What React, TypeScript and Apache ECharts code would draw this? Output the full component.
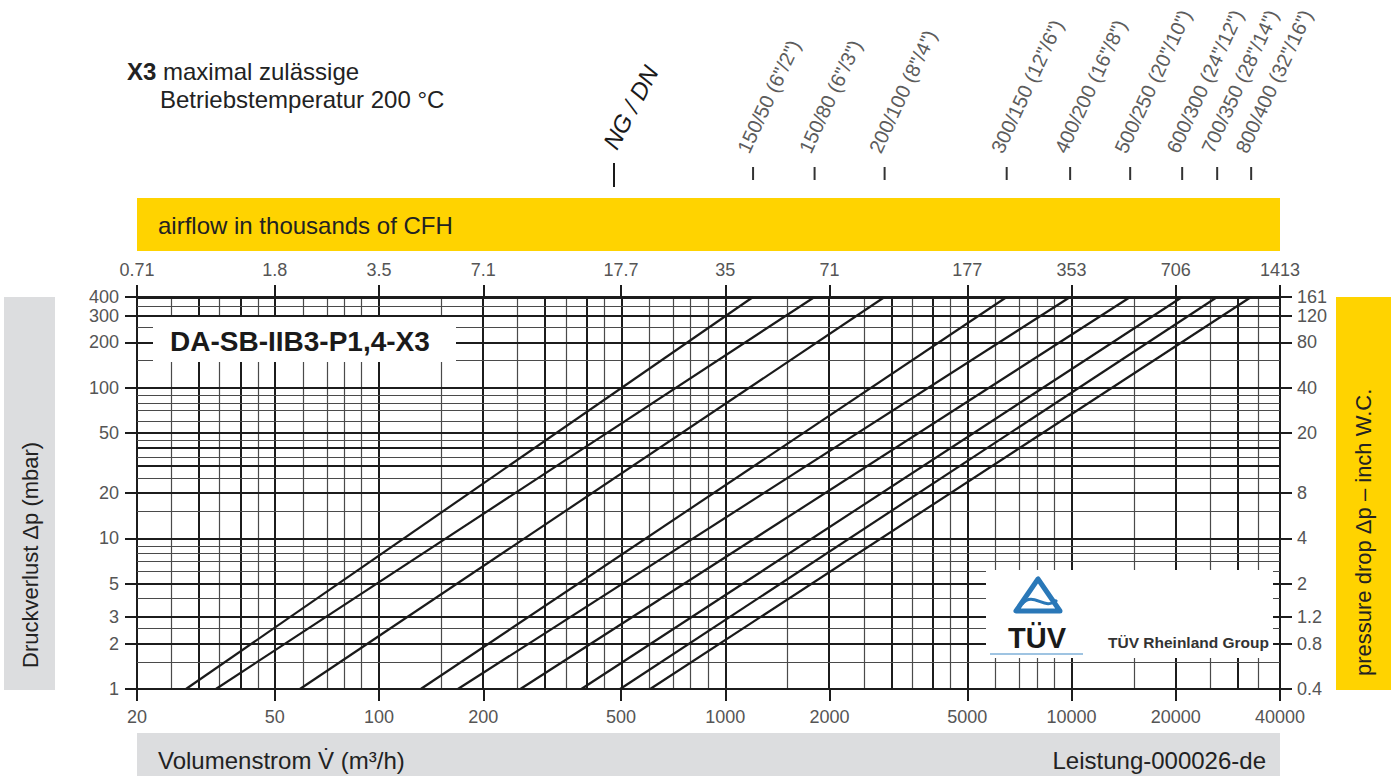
import React, { useEffect, useRef } from 'react';
import * as echarts from 'echarts';

// ---- data ----
// flow (m³/h) of each filter size at 1 mbar and at 400 mbar pressure drop
const dnLabels = [
  '150/50 (6"/2")',
  '150/80 (6"/3")',
  '200/100 (8"/4")',
  '300/150 (12"/6")',
  '400/200 (16"/8")',
  '500/250 (20"/10")',
  '600/300 (24"/12")',
  '700/350 (28"/14")',
  '800/400 (32"/16")',
];
const flowAt1mbar = [27.7, 33.8, 59.1, 132, 169, 256, 384, 497, 607];
const flowAt400mbar = [1203, 1811, 2885, 6497, 9908, 14770, 20870, 26340, 33020];
const dpLow = 1;
const dpHigh = 400;

// axis ticks
const flowTicks = [20, 50, 100, 200, 500, 1000, 2000, 5000, 10000, 20000, 40000];
const flowTickLabels = ['20', '50', '100', '200', '500', '1000', '2000', '5000', '10000', '20000', '40000'];
const cfhTickLabels = ['0.71', '1.8', '3.5', '7.1', '17.7', '35', '71', '177', '353', '706', '1413'];
const dpTicks = [1, 2, 3, 5, 10, 20, 50, 100, 200, 300, 400];
const dpTickLabels = ['1', '2', '3', '5', '10', '20', '50', '100', '200', '300', '400'];
const inchTickLabels = ['0.4', '0.8', '1.2', '2', '4', '8', '20', '40', '80', '120', '161'];

// grid lines of the log paper
const flowGridBold = [20, 30, 40, 50, 100, 200, 300, 400, 500, 1000, 2000, 3000, 4000, 5000, 10000, 20000, 30000, 40000];
const flowGridThin = [25, 35, 45, 60, 70, 80, 90, 150, 250, 350, 450, 600, 700, 800, 900, 1500, 2500, 3500, 4500, 6000, 7000, 8000, 9000, 15000, 25000, 35000];
const dpGridBold = [1, 2, 3, 5, 10, 20, 30, 40, 50, 100, 200, 300, 400];
const dpGridThin = [1.5, 2.5, 4, 6, 7, 8, 9, 15, 25, 35, 45, 60, 70, 80, 90, 150, 250, 350];

const L = Math.log10;
const FONT = 'Arial, "Liberation Sans", Helvetica, sans-serif';

export default function App() {
  const ref = useRef<HTMLDivElement>(null);

  useEffect(() => {
    document.body.style.margin = '0';
    const chart = echarts.init(ref.current as HTMLDivElement, null, { renderer: 'svg' });

    const fmt = (ticks: number[], labels: string[]) => (v: number) => {
      const i = ticks.findIndex((t) => Math.abs(L(t) - v) < 1e-6);
      return i >= 0 ? labels[i] : '';
    };

    const lineCol = '#1c1c1c';
    const axisBase = (ticks: number[], labels: string[], margin: number) => ({
      type: 'value',
      splitLine: { show: false },
      axisLine: { show: true, onZero: false, lineStyle: { color: lineCol, width: 2 } },
      axisTick: {
        show: true,
        inside: false,
        length: 12,
        customValues: ticks.map(L),
        lineStyle: { color: lineCol, width: 2 },
      },
      axisLabel: {
        show: true,
        customValues: ticks.map(L),
        formatter: fmt(ticks, labels),
        margin,
        fontSize: 18,
        color: '#555',
        fontFamily: FONT,
      },
    });

    const gridItems = [
      ...flowGridBold.map((v) => ({ xAxis: L(v), lineStyle: { color: lineCol, width: 2, type: 'solid' } })),
      ...flowGridThin.map((v) => ({ xAxis: L(v), lineStyle: { color: '#4a4a4a', width: 1.2, type: 'solid' } })),
      ...dpGridBold.map((v) => ({ yAxis: L(v), lineStyle: { color: lineCol, width: 2, type: 'solid' } })),
      ...dpGridThin.map((v) => ({ yAxis: L(v), lineStyle: { color: '#4a4a4a', width: 1.2, type: 'solid' } })),
    ];

    const option: any = {
      animation: false,
      backgroundColor: '#ffffff',
      grid: { left: 137, right: 111, top: 297, bottom: 87, outerBoundsMode: 'none', containLabel: false },
      xAxis: [
        { ...axisBase(flowTicks, flowTickLabels, 19), position: 'bottom', min: L(20), max: L(40000) },
        { ...axisBase(flowTicks, cfhTickLabels, 18), position: 'top', min: L(20), max: L(40000) },
      ],
      yAxis: [
        { ...axisBase(dpTicks, dpTickLabels, 18), position: 'left', min: L(dpLow), max: L(dpHigh) },
        {
          ...axisBase(dpTicks, inchTickLabels, 17),
          position: 'right',
          min: L(dpLow),
          max: L(dpHigh),
          axisLabel: { ...axisBase(dpTicks, inchTickLabels, 17).axisLabel, align: 'left' },
        },
      ],
      series: [
        {
          type: 'line',
          name: 'grid',
          data: [],
          silent: true,
          z: 1,
          markLine: {
            silent: true,
            z: 1,
            animation: false,
            symbol: ['none', 'none'],
            label: { show: false },
            emphasis: { disabled: true },
            lineStyle: { type: 'solid' },
            data: gridItems,
          },
        },
        ...flowAt1mbar.map((q1, i) => ({
          type: 'line',
          name: dnLabels[i],
          data: [
            [L(q1), L(dpLow)],
            [L(flowAt400mbar[i]), L(dpHigh)],
          ],
          symbol: 'none',
          showSymbol: false,
          silent: true,
          z: 3,
          lineStyle: { color: '#1a1a1a', width: 2.2 },
        })),
      ],
    };
    chart.setOption(option);

    const px = (q: number) => chart.convertToPixel({ xAxisIndex: 0 }, L(q)) as number;
    const rot = (deg: number) => (deg * Math.PI) / 180;
    const TXT = 24;

    const elements: any[] = [];
    // header note
    elements.push({
      type: 'text', x: 127, y: 71, z: 10,
      style: {
        text: '{b|X3} maximal zulässige',
        rich: { b: { fontWeight: 'bold', fontSize: TXT, fontFamily: FONT, fill: '#222' } },
        fontSize: TXT, fontFamily: FONT, fill: '#222', verticalAlign: 'middle', align: 'left',
      },
    });
    elements.push({
      type: 'text', x: 160, y: 99, z: 10,
      style: { text: 'Betriebstemperatur 200 °C', fontSize: TXT, fontFamily: FONT, fill: '#222', verticalAlign: 'middle', align: 'left' },
    });
    // NG / DN
    elements.push({
      type: 'text', x: 620, y: 153, rotation: rot(62), z: 10,
      style: { text: 'NG / DN', fontSize: 24, fontStyle: 'italic', fontFamily: FONT, fill: '#1a1a1a', align: 'left', verticalAlign: 'bottom' },
    });
    elements.push({ type: 'line', z: 10, shape: { x1: 614, y1: 163, x2: 614, y2: 187 }, style: { stroke: '#1a1a1a', lineWidth: 2 } });
    // DN labels at line ends
    flowAt400mbar.forEach((q, i) => {
      const x = px(q);
      elements.push({ type: 'line', z: 10, shape: { x1: x, y1: 167, x2: x, y2: 180 }, style: { stroke: '#333', lineWidth: 2 } });
      elements.push({
        type: 'text', x: x - 1, y: 156, rotation: rot(65), z: 10,
        style: { text: dnLabels[i], fontSize: 20, fontFamily: FONT, fill: '#5c5c5c', align: 'left', verticalAlign: 'bottom' },
      });
    });
    // yellow CFH band
    elements.push({ type: 'rect', z: 10, shape: { x: 137, y: 198, width: 1143, height: 53 }, style: { fill: '#FFD300' } });
    elements.push({
      type: 'text', x: 158, y: 225, z: 11,
      style: { text: 'airflow in thousands of CFH', fontSize: TXT, fontFamily: FONT, fill: '#222', verticalAlign: 'middle', align: 'left' },
    });
    // product title box
    elements.push({ type: 'rect', z: 10, shape: { x: 153, y: 317, width: 303, height: 45 }, style: { fill: '#ffffff' } });
    elements.push({
      type: 'text', x: 170, y: 341, z: 11,
      style: { text: 'DA-SB-IIB3-P1,4-X3', fontSize: 28, fontWeight: 'bold', fontFamily: FONT, fill: '#1a1a1a', verticalAlign: 'middle', align: 'left' },
    });
    // TÜV box
    elements.push({ type: 'rect', z: 10, shape: { x: 986, y: 570, width: 287, height: 88 }, style: { fill: '#ffffff' } });
    elements.push({
      type: 'polygon', z: 11,
      shape: { points: [[1038, 579], [1016, 611], [1060, 611]] },
      style: { fill: 'none', stroke: '#2a78b8', lineWidth: 5, lineJoin: 'round' },
    });
    elements.push({
      type: 'bezierCurve', z: 11,
      shape: { x1: 1022, y1: 604, cpx1: 1034, cpy1: 590, cpx2: 1044, cpy2: 612, x2: 1057, y2: 600 },
      style: { fill: 'none', stroke: '#2a78b8', lineWidth: 3 },
    });
    elements.push({
      type: 'text', x: 1037, y: 638, z: 11,
      style: { text: 'TÜV', fontSize: 29, fontWeight: 'bold', fontFamily: FONT, fill: '#1a1a1a', align: 'center', verticalAlign: 'middle' },
    });
    elements.push({ type: 'line', z: 11, shape: { x1: 990, y1: 654, x2: 1083, y2: 654 }, style: { stroke: '#7fb0d8', lineWidth: 1.5 } });
    elements.push({
      type: 'text', x: 1108, y: 642, z: 11,
      style: { text: 'TÜV Rheinland Group', fontSize: 15.5, fontWeight: 'bold', fontFamily: FONT, fill: '#333', align: 'left', verticalAlign: 'middle' },
    });
    // left grey band
    elements.push({ type: 'rect', z: 10, shape: { x: 4, y: 297, width: 51, height: 393 }, style: { fill: '#dcdddf' } });
    elements.push({
      type: 'text', x: 30, y: 668, rotation: rot(90), z: 11,
      style: { text: 'Druckverlust Δp (mbar)', fontSize: 22, fontFamily: FONT, fill: '#222', align: 'left', verticalAlign: 'middle' },
    });
    // right yellow band
    elements.push({ type: 'rect', z: 10, shape: { x: 1336, y: 297, width: 55, height: 393 }, style: { fill: '#FFD300' } });
    elements.push({
      type: 'text', x: 1363, y: 676, rotation: rot(90), z: 11,
      style: { text: 'pressure drop Δp – inch W.C.', fontSize: 22, fontFamily: FONT, fill: '#222', align: 'left', verticalAlign: 'middle' },
    });
    // bottom grey band
    elements.push({ type: 'rect', z: 10, shape: { x: 137, y: 733, width: 1143, height: 43 }, style: { fill: '#dcdddf' } });
    elements.push({
      type: 'text', x: 158, y: 760, z: 11,
      style: { text: 'Volumenstrom V\u0307 (m³/h)', fontSize: TXT, fontFamily: FONT, fill: '#222', align: 'left', verticalAlign: 'middle' },
    });
    elements.push({
      type: 'text', x: 1266, y: 760, z: 11,
      style: { text: 'Leistung-000026-de', fontSize: TXT, fontFamily: FONT, fill: '#222', align: 'right', verticalAlign: 'middle' },
    });

    chart.setOption({ graphic: { elements } });

    return () => chart.dispose();
  }, []);

  return (
    <div
      ref={ref}
      style={{ position: 'fixed', left: 0, top: 0, width: 1391, height: 776, background: '#fff' }}
    />
  );
}
